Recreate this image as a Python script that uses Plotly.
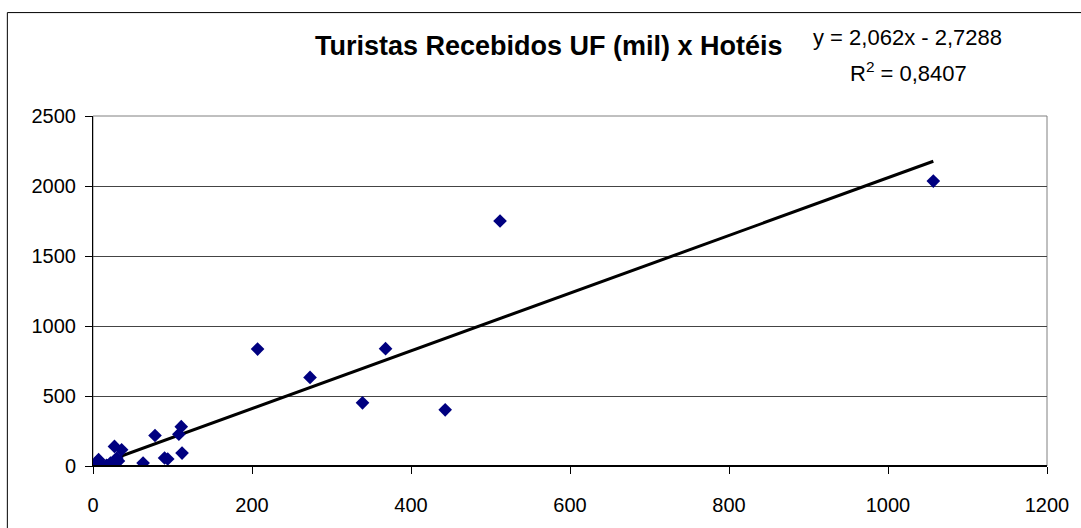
import plotly.graph_objects as go

# Turistas recebidos por UF (mil) x Hotéis
turistas = [1057, 512, 443, 368, 339, 273, 207,
            112, 111, 108, 94, 90, 78, 63,
            36, 27, 30, 28, 25, 17, 7, 5, 3, 12, 22, 32, 10]
hoteis = [2035, 1750, 401, 838, 451, 633, 835,
          92, 281, 227, 50, 57, 218, 21,
          116, 140, 57, 30, 10, 5, 45, 28, 5, 0, 20, 35, 15]

slope = 2.062
intercept = -2.7288
r2 = 0.8407

x_ticks = [0, 200, 400, 600, 800, 1000, 1200]
y_ticks = [0, 500, 1000, 1500, 2000, 2500]

title_text = "Turistas Recebidos UF (mil) x Hotéis"
eq_text = "y = 2,062x - 2,7288"
r2_text = "R<sup>2</sup> = 0,8407"

FONT = "Liberation Sans, Arial, sans-serif"
W, H = 1081, 528
L, R, T, B = 93, 30, 116, 60
PW, PH = W - L - R, H - T - B


def px(xp):
    return (xp - L) / PW


def py(yp):
    return (H - B - yp) / PH


x_min, x_max = min(turistas), max(turistas)
trend_x = [x_min, x_max]
trend_y = [slope * v + intercept for v in trend_x]

fig = go.Figure()
fig.add_trace(go.Scatter(
    x=trend_x, y=trend_y, mode="lines",
    line=dict(color="black", width=3), showlegend=False, hoverinfo="skip"))
fig.add_trace(go.Scatter(
    x=turistas, y=hoteis, mode="markers",
    marker=dict(symbol="diamond", size=10.5, color="#000080",
                line=dict(width=0)),
    showlegend=False))

fig.update_layout(
    width=W, height=H,
    margin=dict(l=L, r=R, t=T, b=B, pad=0),
    paper_bgcolor="white", plot_bgcolor="white",
    font=dict(family=FONT, size=20, color="black"),
    xaxis=dict(range=[0, 1200], tickvals=x_ticks, ticks="outside", ticklen=7,
               tickcolor="black", showgrid=False, zeroline=False,
               showline=True, linecolor="black", linewidth=1,
               ticklabelstandoff=14, tickfont=dict(size=20)),
    yaxis=dict(range=[0, 2500], tickvals=y_ticks, ticks="outside", ticklen=7,
               tickcolor="black", showgrid=True, gridcolor="#444444", gridwidth=1,
               zeroline=False, showline=True, linecolor="black", linewidth=1,
               ticklabelstandoff=5, tickfont=dict(size=20)),
    shapes=[
        dict(type="rect", xref="paper", yref="paper", x0=0, x1=1, y0=0, y1=1,
             line=dict(color="#808080", width=1), layer="below"),
        dict(type="rect", xref="paper", yref="paper",
             x0=px(7), x1=px(W + 5), y0=py(H + 5), y1=py(12),
             line=dict(color="black", width=1)),
        dict(type="line", xref="paper", yref="paper", x0=0, x1=1, y0=0, y1=0,
             line=dict(color="black", width=2)),
    ],
    annotations=[
        dict(text="<b>" + title_text + "</b>", xref="paper", yref="paper",
             x=px(551), y=py(46), xanchor="center", yanchor="middle",
             showarrow=False, font=dict(size=27, family=FONT)),
        dict(text=eq_text, xref="paper", yref="paper",
             x=px(911), y=py(37), xanchor="center", yanchor="middle",
             showarrow=False, font=dict(size=22, family=FONT)),
        dict(text=r2_text, xref="paper", yref="paper",
             x=px(912), y=py(72), xanchor="center", yanchor="middle",
             showarrow=False, font=dict(size=22, family=FONT)),
    ],
)

fig.write_html("out.html",
               config={"displayModeBar": False},
               post_script="document.body.style.margin='0';"
                           "document.body.style.overflow='hidden';")
